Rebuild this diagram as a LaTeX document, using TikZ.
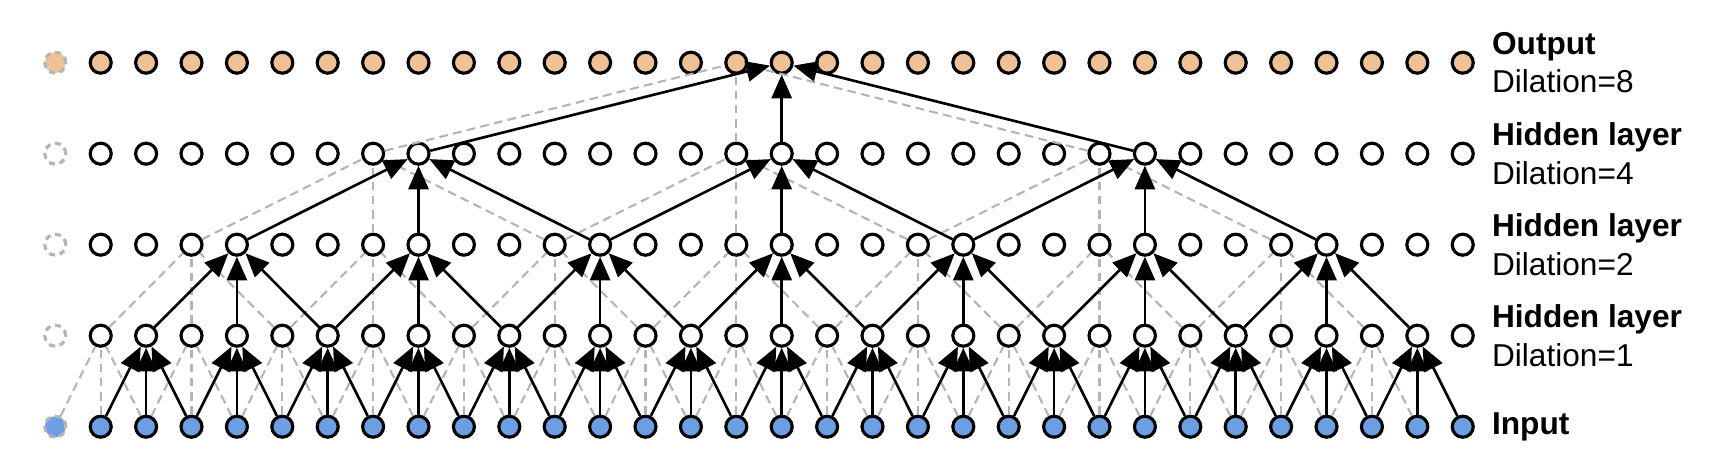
\documentclass[tikz,border=0pt]{standalone}
\usepackage{fontspec}
\setmainfont{Liberation Sans}
\usetikzlibrary{arrows.meta}

\definecolor{inblue}{RGB}{108,158,226}
\definecolor{outorange}{RGB}{239,193,150}
\definecolor{padgray}{RGB}{180,180,180}

% one receptive field, #1 = output column, #2 = link style
\newcommand{\drawtree}[2]{%
	\foreach \s in {-8,0,8}{
		\pgfmathtruncatemacro\src{#1+\s}
		\draw[#2] (hc\src) -- (out#1);
	}
	\foreach \a in {-8,0,8}{
		\foreach \s in {-4,0,4}{
			\pgfmathtruncatemacro\dst{#1+\a}
			\pgfmathtruncatemacro\src{#1+\a+\s}
			\draw[#2] (hb\src) -- (hc\dst);
		}
	}
	\foreach \a in {-12,-8,...,12}{
		\foreach \s in {-2,0,2}{
			\pgfmathtruncatemacro\dst{#1+\a}
			\pgfmathtruncatemacro\src{#1+\a+\s}
			\draw[#2] (ha\src) -- (hb\dst);
		}
	}
	\foreach \a in {-14,-12,...,14}{
		\foreach \s in {-1,0,1}{
			\pgfmathtruncatemacro\dst{#1+\a}
			\pgfmathtruncatemacro\src{#1+\a+\s}
			\draw[#2] (in\src) -- (ha\dst);
		}
	}
}

\begin{document}
\begin{tikzpicture}[
		unit/.style={circle, draw=black, line width=1.8pt, minimum size=0.42cm, inner sep=0pt},
		padunit/.style={unit, draw=padgray, dash pattern=on 3.4pt off 2.7pt},
		solidlink/.style={line width=1.5pt, -{Triangle[length=13.5pt,width=11.5pt]}},
		ghostlink/.style={padgray, line width=1.2pt, dash pattern=on 5pt off 3pt},
		lbl/.style={anchor=west, align=left, inner sep=0pt, font=\fontsize{18}{22}\selectfont}
	]

		\useasboundingbox (0,0) rectangle (34.36,9.36);

		% Layers of units
		\foreach \lay/\k/\col in {in/0/inblue, ha/1/white, hb/2/white, hc/3/white, out/4/outorange}{
			\node[padunit, fill=\col] (\lay-1) at ({2.014-0.908},{0.826+1.82*\k}) {};
			\foreach \t in {0,...,30}{
				\node[unit, fill=\col] (\lay\t) at ({2.014+0.908*\t},{0.826+1.82*\k}) {};
			}
		}

		% Receptive field of the previous output
		\drawtree{14}{ghostlink}

		% Receptive field of the current output
		\drawtree{15}{solidlink}

		% Layer names
		\node[lbl] (lblout) at (29.834,8.106) {\textbf{Output}\\Dilation=8};
		\node[lbl] (lblhc) at (29.834,6.286) {\textbf{Hidden layer}\\Dilation=4};
		\node[lbl] (lblhb) at (29.834,4.466) {\textbf{Hidden layer}\\Dilation=2};
		\node[lbl] (lblha) at (29.834,2.646) {\textbf{Hidden layer}\\Dilation=1};
		\node[lbl] (lblin) at (29.834,0.826) {\textbf{Input}};

	\end{tikzpicture}
\end{document}
